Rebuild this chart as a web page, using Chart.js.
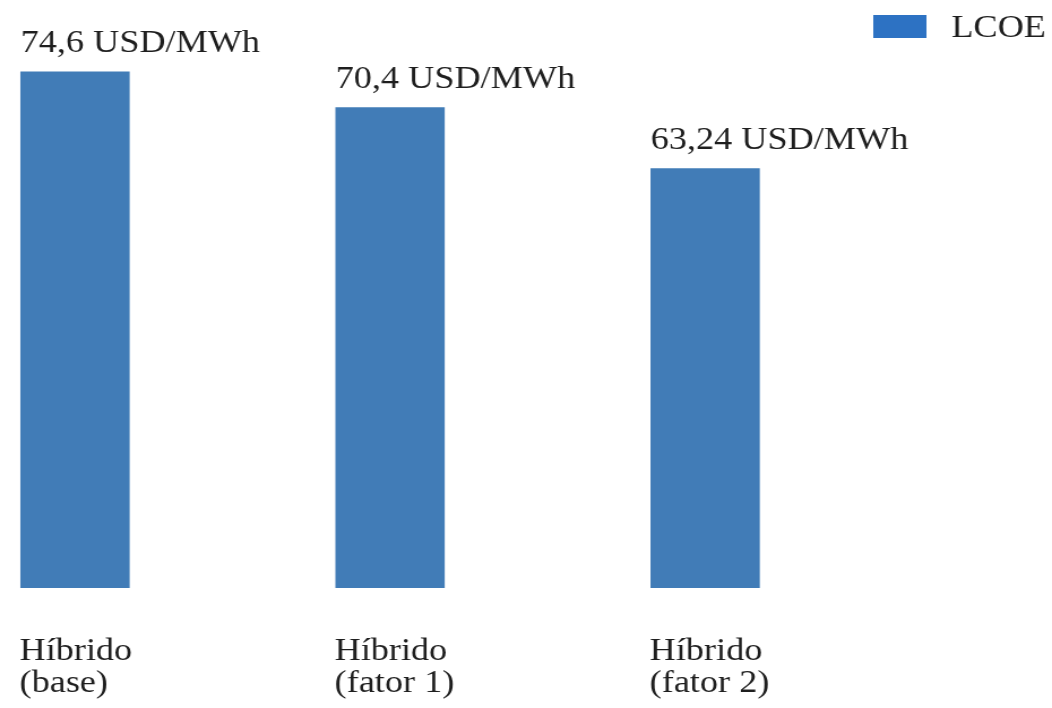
<!DOCTYPE html>
<html>
<head>
<meta charset="utf-8">
<script src="https://cdn.jsdelivr.net/npm/chart.js@4.4.1/dist/chart.umd.min.js"></script>
<style>
  html, body { margin: 0; padding: 0; background: #ffffff; }
</style>
</head>
<body>
<canvas id="lcoe" width="930" height="708" style="display:block;width:1052px;height:708px"></canvas>
<script>
// Scenario names (two-line tick labels) and LCOE in USD/MWh
const categories = [['Híbrido', '(base)'], ['Híbrido', '(fator 1)'], ['Híbrido', '(fator 2)']];
const lcoeValues = [74.6, 70.4, 63.24];
const seriesName = 'LCOE';
const unitLabel = 'USD/MWh';

const FONT = '"Liberation Serif", "Times New Roman", serif';
const TEXT = '#1e1e1e';
const BAR = '#417cb7';
const LEGEND_BOX = '#2d72c3';

// Writes "74,6 USD/MWh" above the top-left corner of each bar
const valueLabels = {
  id: 'valueLabels',
  afterDatasetsDraw(chart) {
    const ctx = chart.ctx;
    const meta = chart.getDatasetMeta(0);
    ctx.save();
    ctx.font = '32px ' + FONT;
    ctx.fillStyle = TEXT;
    ctx.textAlign = 'left';
    ctx.textBaseline = 'alphabetic';
    meta.data.forEach((bar, i) => {
      const v = chart.data.datasets[0].data[i].y;
      const txt = String(v).replace('.', ',') + ' ' + unitLabel;
      ctx.fillText(txt, bar.x - bar.width / 2, bar.y - 20);
    });
    ctx.restore();
  }
};

// Single-entry key in the top-right corner
const cornerKey = {
  id: 'cornerKey',
  afterDraw(chart) {
    const ctx = chart.ctx;
    const ds = chart.data.datasets[0];
    ctx.save();
    ctx.fillStyle = LEGEND_BOX;
    ctx.fillRect(772, 15, 47, 23);
    ctx.font = '32px ' + FONT;
    ctx.fillStyle = TEXT;
    ctx.textAlign = 'left';
    ctx.textBaseline = 'alphabetic';
    ctx.fillText(ds.label, 841, 37);
    ctx.restore();
  }
};

new Chart(document.getElementById('lcoe'), {
  type: 'bar',
  data: {
    datasets: [{
      label: seriesName,
      data: lcoeValues.map((v, i) => ({ x: i, y: v })),
      backgroundColor: BAR,
      borderWidth: 0,
      barThickness: 96
    }]
  },
  options: {
    responsive: false,
    animation: false,
    devicePixelRatio: 1,
    layout: { padding: 0 },
    plugins: {
      tooltip: { enabled: false },
      legend: { display: false }
    },
    scales: {
      x: {
        type: 'linear',
        offset: false,
        min: -0.238,
        max: 3.101,
        grid: { display: false, drawTicks: false },
        border: { display: false },
        afterBuildTicks(scale) {
          scale.ticks = categories.map((_, i) => ({ value: i }));
        },
        // reserve a fixed band under the bars for the two-line names
        afterFit(scale) {
          scale.height = 120;
        },
        ticks: {
          autoSkip: false,
          maxRotation: 0,
          align: 'start',
          labelOffset: -49,
          padding: 48,
          color: TEXT,
          font: { family: FONT, size: 32, lineHeight: 1.0 },
          callback: (value) => categories[value] || ''
        }
      },
      y: {
        display: false,
        min: 13.9,
        max: 83.06
      }
    }
  },
  plugins: [valueLabels, cornerKey]
});
</script>
</body>
</html>
